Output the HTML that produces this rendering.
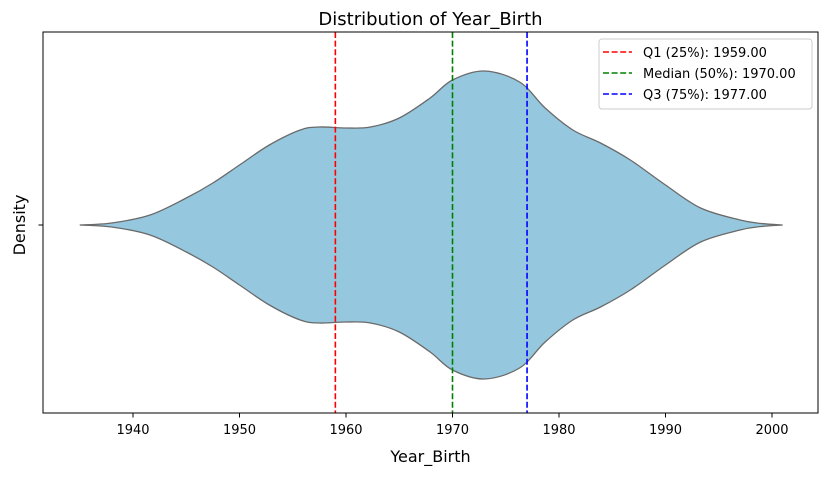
<!DOCTYPE html>
<html><head><meta charset="utf-8"><style>
body{margin:0;background:#fff;}
svg text{font-family:"DejaVu Sans","Liberation Sans",sans-serif;fill:#000;}
</style></head><body>
<svg id="chart" width="828" height="475" xmlns="http://www.w3.org/2000/svg"></svg>
<script>
const years=[1935,1938,1941.6,1945,1947.5,1950,1952.8,1955.7,1957.5,1960,1962.3,1965,1967.9,1970,1973,1976.3,1978.7,1981.3,1983.9,1986.7,1990,1993.3,1997,1999,2001];
const density=[0,2,10,27,42,60,80,95,98,97,98,107,127,145,154,143,117,95,82,65,40,17,5,1.5,0];
const quartileNames=["Q1 (25%)","Median (50%)","Q3 (75%)"];
const quartileValues=[1959,1970,1977];
const quartileColors=["red","green","blue"];
const xTicks=[1940,1950,1960,1970,1980,1990,2000];

const L=43,R=818,T=32,B=413,CY=225;
const x=v=>133+(v-1940)*(772-133)/60;
const w=d=>d*154/154;
const svg=document.getElementById('chart');
const NS="http://www.w3.org/2000/svg";
function add(tag,attrs,parent,text){const e=document.createElementNS(NS,tag);for(const k in attrs)e.setAttribute(k,attrs[k]);if(text!=null)e.textContent=text;(parent||svg).appendChild(e);return e;}

const upperPts=years.map((y,i)=>[x(y),CY-w(density[i])]);
const lowerPts=years.map((y,i)=>[x(y),CY+w(density[i])]).reverse();
function cr(pts){let d="";for(let i=0;i<pts.length-1;i++){const p0=pts[Math.max(i-1,0)],p1=pts[i],p2=pts[i+1],p3=pts[Math.min(i+2,pts.length-1)];
const c1=[p1[0]+(p2[0]-p0[0])/6,p1[1]+(p2[1]-p0[1])/6],c2=[p2[0]-(p3[0]-p1[0])/6,p2[1]-(p3[1]-p1[1])/6];
d+=` C${c1[0]},${c1[1]} ${c2[0]},${c2[1]} ${p2[0]},${p2[1]}`;}return d;}
const pathD=`M${upperPts[0][0]},${upperPts[0][1]}`+cr(upperPts)+` L${lowerPts[0][0]},${lowerPts[0][1]}`+cr(lowerPts)+"Z";
const v=add('path',{d:pathD,fill:'#95c8de',stroke:'#6a6a6a','stroke-width':1.3});



quartileValues.forEach((q,i)=>{
 const l=add('line',{x1:x(q),x2:x(q),y1:T,y2:B,stroke:quartileColors[i],'stroke-width':1.6,'stroke-dasharray':'6,2.6'});
 
 
});

const frame=add('rect',{x:L,y:T,width:R-L,height:B-T,fill:'none',stroke:'#000','stroke-width':1});



xTicks.forEach(t=>{
 const tk=add('line',{x1:x(t),x2:x(t),y1:B,y2:B+4.5,stroke:'#000'});
 
 
 const tl=add('text',{x:x(t),y:B+21,'text-anchor':'middle','font-size':13},null,t);
 
 
});
const yt=add('line',{x1:L-4.5,x2:L,y1:CY,y2:CY,stroke:'#000'});



const title=add('text',{x:(L+R)/2,y:25,'text-anchor':'middle','font-size':18},null,'Distribution of Year_Birth');


const xl=add('text',{x:(L+R)/2,y:462,'text-anchor':'middle','font-size':16},null,'Year_Birth');


const yl=add('text',{x:0,y:0,'text-anchor':'middle','font-size':16,transform:`translate(25,${CY}) rotate(-90)`},null,'Density');



const lg=add('g',{});


add('rect',{x:599,y:39,width:213,height:70,rx:3,fill:'#fff','fill-opacity':0.8,stroke:'#ccc'},lg);
quartileValues.forEach((q,i)=>{
 const yy=52+i*21;
 const e=add('g',{},lg);
 
 
 add('line',{x1:603,x2:632,y1:yy,y2:yy,stroke:quartileColors[i],'stroke-width':1.6,'stroke-dasharray':'6,2.6'},e);
 add('text',{x:643,y:yy+5,'font-size':13},e,quartileNames[i]+': '+q.toFixed(2));
});
</script>
</body></html>
